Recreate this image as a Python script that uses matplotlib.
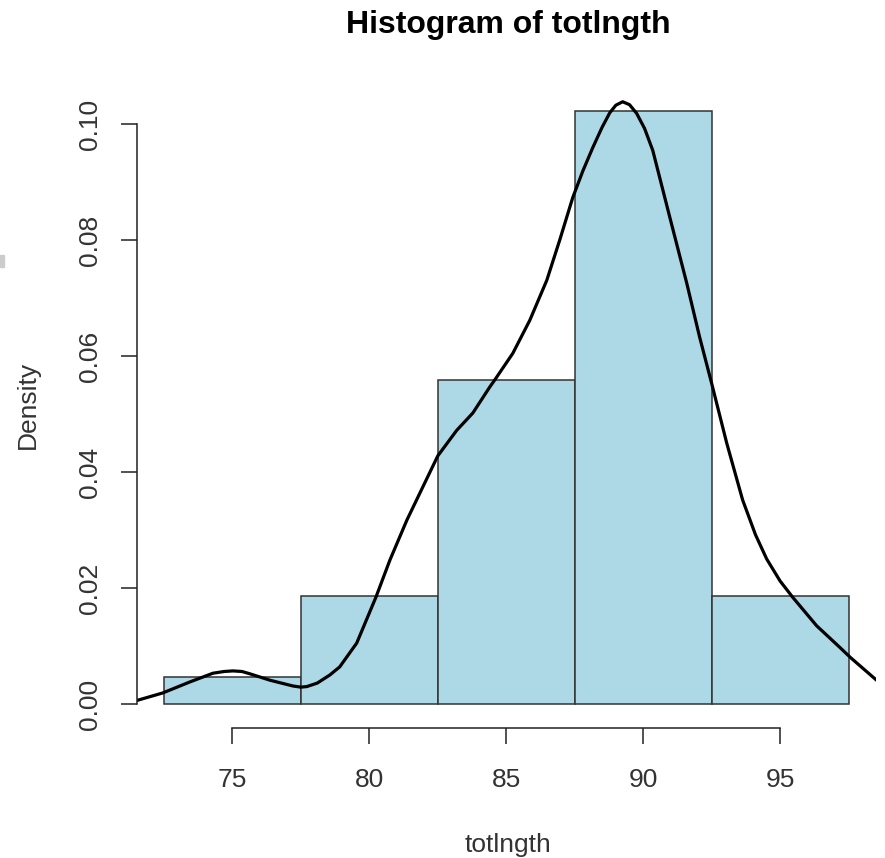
import matplotlib
matplotlib.use("Agg")
from matplotlib import pyplot as plt
from matplotlib.patches import Rectangle

plt.rcParams['font.family'] = ['Liberation Sans', 'DejaVu Sans']

# histogram bins and counts (totlngth, n = 43)
bin_edges = [72.5, 77.5, 82.5, 87.5, 92.5, 97.5]
bin_counts = [1, 4, 12, 22, 4]
bin_mids = [75, 80, 85, 90, 95]

# density curve
dens_x = [71.44, 72.46, 73.45, 74.29, 74.70, 75.02, 75.35, 75.64, 76.37, 77.21, 77.50,
          77.72, 78.10, 78.56, 78.92, 79.54, 80.24, 80.75, 81.37, 81.95, 82.50, 83.19,
          83.78, 84.40, 84.58, 85.24, 85.86, 86.48, 86.95, 87.43, 87.80, 88.16, 88.50,
          88.78, 89.00, 89.25, 89.50, 89.76, 90.05, 90.35, 90.97, 91.59, 92.06, 92.50,
          93.05, 93.63, 94.10, 94.51, 95.00, 95.46, 96.33, 97.17, 97.57, 98.52, 98.9]
dens_y = [0.0005, 0.0019, 0.0038, 0.0053, 0.0056, 0.0057, 0.0056, 0.0052, 0.0041, 0.0031, 0.0029,
          0.0030, 0.0036, 0.0050, 0.0064, 0.0105, 0.0184, 0.0248, 0.0317, 0.0374, 0.0428, 0.0472,
          0.0502, 0.0547, 0.0559, 0.0605, 0.0662, 0.0731, 0.0800, 0.0874, 0.0920, 0.0960, 0.0995,
          0.1020, 0.1033, 0.1039, 0.1034, 0.1019, 0.0993, 0.0955, 0.0840, 0.0726, 0.0633, 0.0553,
          0.0450, 0.0352, 0.0292, 0.0250, 0.0212, 0.0184, 0.0135, 0.0098, 0.0080, 0.0041, 0.0028]

x_ticks = [75, 80, 85, 90, 95]
y_ticks = [0.00, 0.02, 0.04, 0.06, 0.08, 0.10]

fig = plt.figure(figsize=(8.85, 8.58), dpi=100)
ax = fig.add_axes([136.5 / 885, 1 - 728 / 858, (876 - 136.5) / 885, (728 - 78) / 858])

ax.hist(bin_mids, bins=bin_edges, weights=bin_counts, density=True,
        color='#ADD8E6', edgecolor='#333333', linewidth=1.1)
ax.plot(dens_x, dens_y, color='black', linewidth=2.3, solid_joinstyle='round')

ax.set_xlim(71.5, 98.5)
ax.set_ylim(-0.00415, 0.1080)

for s in ['top', 'right']:
    ax.spines[s].set_visible(False)
ax.spines['left'].set_bounds(0, 0.10)
ax.spines['bottom'].set_bounds(75, 95)
for s in ['left', 'bottom']:
    ax.spines[s].set_linewidth(1.1)
    ax.spines[s].set_color('#222222')

ax.set_xticks(x_ticks)
ax.set_xticklabels([str(t) for t in x_ticks])
ax.set_yticks(y_ticks)
ax.set_yticklabels(['%.2f' % t for t in y_ticks], rotation=90, va='center')
ax.tick_params(axis='both', length=11.5, width=1.1, color='#222222',
               labelsize=19, labelcolor='#333333')
ax.tick_params(axis='x', pad=17)
ax.tick_params(axis='y', pad=13)

fig.text(508 / 885, 1 - 33 / 858, 'Histogram of totlngth', ha='center', va='baseline',
         fontsize=23, fontweight='bold')
fig.text(508 / 885, 1 - 852 / 858, 'totlngth', ha='center', va='baseline',
         fontsize=19, color='#333333')
fig.text(28 / 885, 1 - 405 / 858, 'Density', ha='center', va='center',
         rotation=90, fontsize=19, color='#333333')

# small grey mark at the left edge
fig.patches.append(Rectangle((0, 1 - 267 / 858), 4 / 885, 12 / 858,
                             transform=fig.transFigure, color='#cccccc', zorder=0))

fig.savefig('out.png', dpi=100)
